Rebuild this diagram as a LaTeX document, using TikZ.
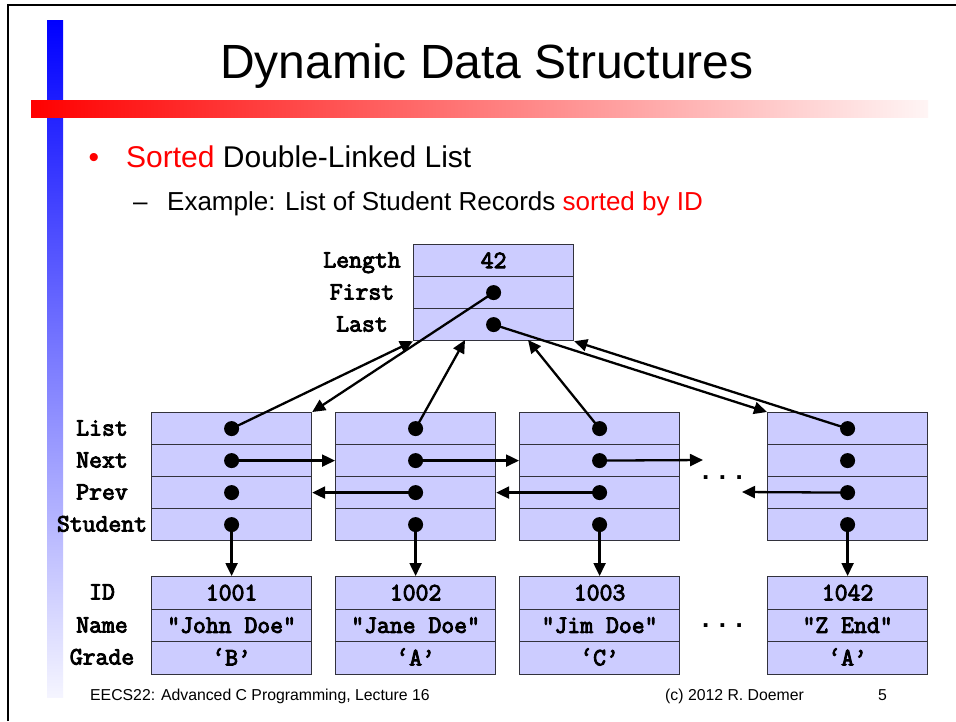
\documentclass[tikz,border=0pt]{standalone}
\usepackage{fontspec}
\setmainfont{Liberation Sans}
\newfontfamily\monofam{Latin Modern Mono}[FakeBold=3.6]
\usetikzlibrary{arrows.meta}
\definecolor{cellfill}{RGB}{204,204,255}
\definecolor{celldraw}{RGB}{50,50,60}
\definecolor{barblue}{RGB}{0,0,255}
\definecolor{barred}{RGB}{255,0,0}
\newcommand{\monoF}{\fontsize{25}{25}\selectfont\monofam}
\begin{document}
\begin{tikzpicture}[x=1pt,y=-1pt,
  cell/.style={draw=celldraw, fill=cellfill, line width=1.2pt, minimum width=160pt, minimum height=32pt, inner sep=0pt, anchor=north west, font=\monoF, text height=15pt, text depth=0pt},
  rcell/.style={cell, minimum height=32.5pt},
  lbl/.style={font=\monoF, inner sep=0pt, text height=15pt, text depth=0pt},
  dotn/.style={circle, fill=black, minimum size=15pt, inner sep=0pt},
  ptr/.style={-{Triangle[length=13pt,width=12pt]}, line width=2.3pt},
  ell/.style={font=\fontsize{26}{26}\selectfont\bfseries, inner sep=0pt, anchor=base}
]
\useasboundingbox (0,0) rectangle (956,721);
\fill[white] (0,0) rectangle (956,721);
% decoration bars
\shade[top color=barblue, bottom color=barblue!4] (47,20) rectangle (63,697);
\shade[left color=barred, right color=barred!4] (31,100) rectangle (928,117);
\draw[line width=2pt] (8,721) -- (8,5) -- (956,5);

% title and bullets
\node[anchor=base, font=\fontsize{48}{48}\selectfont, inner sep=0pt] (title) at (487,78) {Dynamic Data Structures};
\node[anchor=base, font=\fontsize{30}{30}\selectfont, inner sep=0pt, text=red] (b1) at (94,167) {•};
\node[anchor=base west, font=\fontsize{30}{30}\selectfont, inner sep=0pt] (l1) at (126,167) {\textcolor{red}{Sorted} Double-Linked List};
\node[anchor=base west, font=\fontsize{26}{26}\selectfont, inner sep=0pt] (b2) at (133,210) {–};
\node[anchor=base west, font=\fontsize{26}{26}\selectfont, inner sep=0pt] (l2) at (167,210) {Example: List of Student Records \textcolor{red}{sorted by ID}};

% header record
\node[cell] (hlen) at (413,244) {42};
\node[cell] (hfirst) at (413,276) {};
\node[cell] (hlast) at (413,308) {};
\node[dotn] (dfirst) at (hfirst.center) {};
\node[dotn] (dlast) at (hlast.center) {};
\node[lbl] (tlen) at (362,260) {Length};
\node[lbl] (tfirst) at (362,292) {First};
\node[lbl] (tlast) at (362,324) {Last};

% list nodes
\foreach \i/\x in {1/151,2/335,3/519,4/767}{
  \foreach \r/\y in {l/412,n/444,p/476,s/508}{
    \node[cell] (n\i\r) at (\x,\y) {};
    \node[dotn] (d\i\r) at (n\i\r.center) {};
  }
}
\node[lbl] (tl) at (102,428) {List};
\node[lbl] (tn) at (102,460) {Next};
\node[lbl] (tp) at (102,492) {Prev};
\node[lbl] (ts) at (102,524) {Student};

% student records
\node[rcell] (ra1) at (151,576) {1001};
\node[rcell] (rb1) at (151,608.5) {“John Doe”};
\node[rcell] (rc1) at (151,641) {‘B’};
\node[rcell] (ra2) at (335,576) {1002};
\node[rcell] (rb2) at (335,608.5) {“Jane Doe”};
\node[rcell] (rc2) at (335,641) {‘A’};
\node[rcell] (ra3) at (519,576) {1003};
\node[rcell] (rb3) at (519,608.5) {“Jim Doe”};
\node[rcell] (rc3) at (519,641) {‘C’};
\node[rcell] (ra4) at (767,576) {1042};
\node[rcell] (rb4) at (767,608.5) {“Z End”};
\node[rcell] (rc4) at (767,641) {‘A’};
\node[lbl] (tid) at (102,592) {ID};
\node[lbl] (tname) at (102,625) {Name};
\node[lbl] (tgrade) at (102,657) {Grade};

% ellipses
\node[ell] (e1) at (722.5,479) {. . .};
\node[ell] (e2) at (722.5,627) {. . .};

% pointers
\coordinate (tip2) at (465,340);
\coordinate (tip3) at (528,340);
\coordinate (nx3) at (703,460);
\coordinate (pv4) at (742,492);
\draw[ptr] (dfirst.center) -- (n1l.north east);
\draw[ptr] (d1l.center) -- (hlast.south west);
\draw[ptr] (d2l.center) -- (tip2);
\draw[ptr] (d3l.center) -- (tip3);
\draw[ptr] (dlast.center) -- (n4l.north west);
\draw[ptr] (d4l.center) -- (hlast.south east);
\draw[ptr] (d1n.center) -- (n2n.west);
\draw[ptr] (d2n.center) -- (n3n.west);
\draw[ptr] (d3n.center) -- (nx3);
\draw[ptr] (d2p.center) -- (n1p.east);
\draw[ptr] (d3p.center) -- (n2p.east);
\draw[ptr] (d4p.center) -- (pv4);
\foreach \i in {1,2,3,4}{
  \draw[ptr] (d\i s.center) -- (ra\i.north);
}

% footer
\node[anchor=base west, font=\fontsize{15.8}{16}\selectfont, inner sep=0pt] (f1) at (90,700) {EECS22: Advanced C Programming, Lecture 16};
\node[anchor=base west, font=\fontsize{15.8}{16}\selectfont, inner sep=0pt] (f2) at (665,700) {(c) 2012 R. Doemer};
\node[anchor=base west, font=\fontsize{15.8}{16}\selectfont, inner sep=0pt] (f3) at (878,700) {5};
\end{tikzpicture}
\end{document}
